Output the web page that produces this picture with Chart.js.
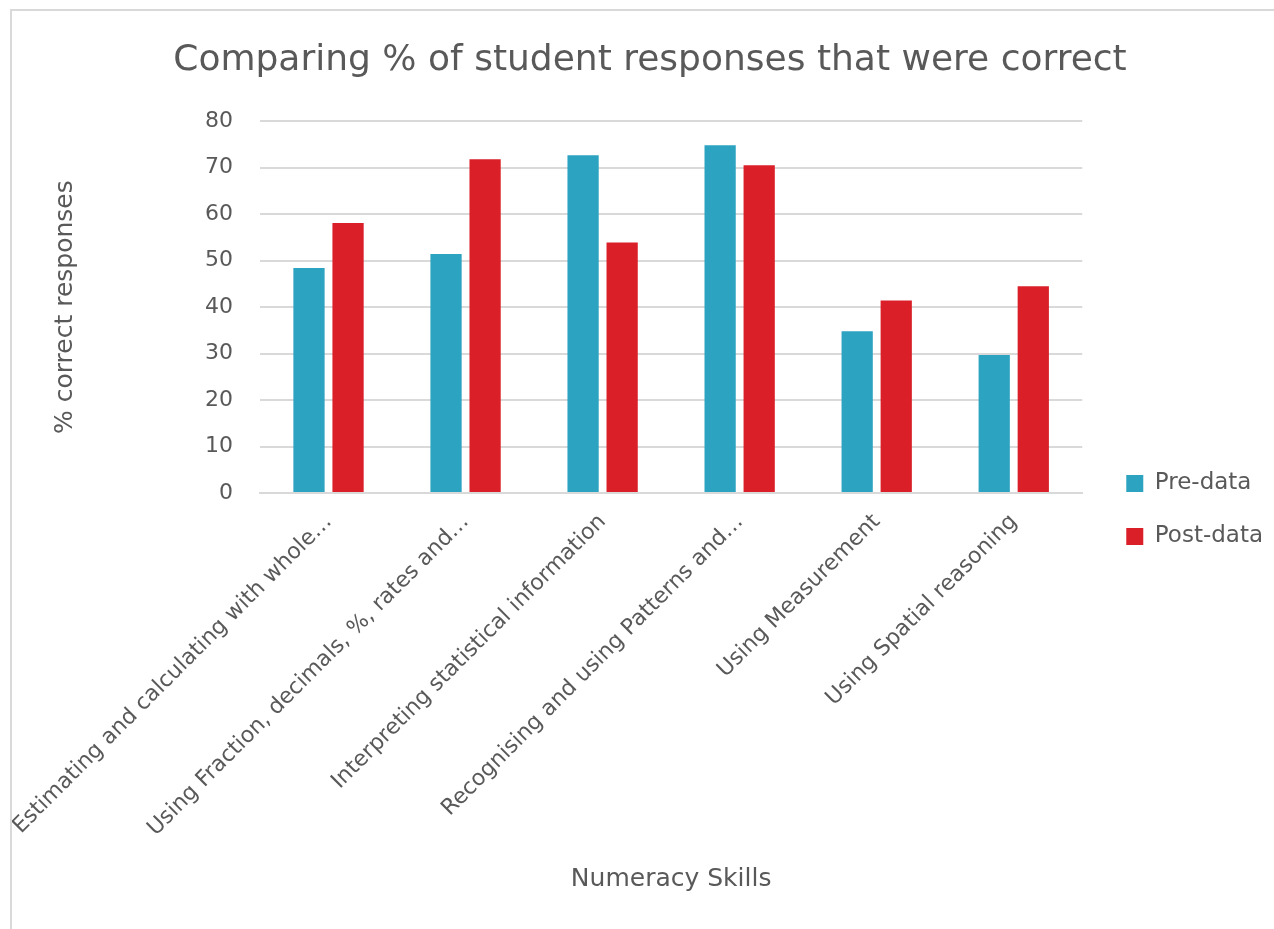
<!DOCTYPE html>
<html>
<head>
<meta charset="utf-8">
<script src="https://cdn.jsdelivr.net/npm/chart.js@4"></script>
<style>
    html, body { margin: 0; padding: 0; background: #fff; overflow: hidden; }
    #box {
        position: absolute; left: 10px; top: 9px;
        width: 1300px; height: 940px;
        border-left: 2px solid #d9d9d9; border-top: 2px solid #d9d9d9;
    }
    #wrap { position: absolute; left: 0; top: 0; width: 1266px; height: 918px; }
</style>
</head>
<body>
<div id="box"><div id="wrap"><canvas id="myChart"></canvas></div></div>
<script>
const labels = [
    'Estimating and calculating with whole…',
    'Using Fraction, decimals, %, rates and…',
    'Interpreting statistical information',
    'Recognising and using Patterns and…',
    'Using Measurement',
    'Using Spatial reasoning',
];
const preData = [48.4, 51.4, 72.7, 74.8, 34.8, 29.7];
const postData = [58.1, 71.8, 53.9, 70.5, 41.4, 44.5];
const yTicks = [0, 10, 20, 30, 40, 50, 60, 70, 80];

let textColor = '#595959'
let gridColor = '#d9d9d9'
let fontFamily = '"DejaVu Sans", Verdana, sans-serif'

const data = {
    labels: labels,
    datasets: [
        {
            label: 'Pre-data',
            data: preData,
            backgroundColor: '#2ca3c0',
            categoryPercentage: 0.57,
            barPercentage: 0.8,
        },
        {
            label: 'Post-data',
            data: postData,
            backgroundColor: '#da1f28',
            categoryPercentage: 0.57,
            barPercentage: 0.8,
        }
    ]
};

const config = {
    type: 'bar',
    data: data,
    options: {
        responsive: true,
        maintainAspectRatio: false,
        animation: false,
        layout: {
            padding: { left: 15, right: 5, top: 10, bottom: 28 }
        },
        plugins: {
            title: {
                display: true,
                text: 'Comparing % of student responses that were correct',
                color: textColor,
                font: { family: fontFamily, size: 36, weight: 'normal' },
                padding: { top: 18, bottom: 39 }
            },
            legend: {
                position: 'right',
                // empty title only pushes the items down to where they sit in the picture
                title: { display: true, text: '', font: { size: 10 }, padding: { top: 86, bottom: 0 } },
                labels: {
                    color: textColor,
                    font: { family: fontFamily, size: 23 },
                    boxWidth: 17,
                    boxHeight: 17,
                    padding: 30
                }
            },
            tooltip: { enabled: false }
        },
        scales: {
            x: {
                grid: { display: false },
                border: { color: gridColor, width: 2 },
                ticks: {
                    color: textColor,
                    font: { family: fontFamily, size: 22 },
                    minRotation: 45,
                    maxRotation: 45,
                    autoSkip: false,
                    padding: 8
                },
                title: {
                    display: true,
                    text: 'Numeracy Skills',
                    color: textColor,
                    font: { family: fontFamily, size: 25 },
                    padding: { top: 0, bottom: 7 }
                },
                afterFit: function (scale) {
                    scale.height = 408
                    // long rotated labels should not push the plot to the right
                    scale.paddingLeft = 0
                    scale.paddingRight = 0
                }
            },
            y: {
                min: 0,
                max: 80,
                afterBuildTicks: function (scale) {
                    scale.ticks = yTicks.map(v => ({ value: v }))
                },
                grid: { color: gridColor, lineWidth: 2, drawTicks: false },
                border: { display: false },
                ticks: {
                    color: textColor,
                    font: { family: fontFamily, size: 22 },
                    padding: 27
                },
                title: {
                    display: true,
                    text: '% correct responses',
                    color: textColor,
                    font: { family: fontFamily, size: 25 },
                    padding: { top: 23, bottom: 0 }
                },
                afterFit: function (scale) { scale.width = 233 }
            },
            // empty axis only to keep a gap between the plot and the legend
            gap: {
                type: 'linear',
                position: 'right',
                display: true,
                grid: { display: false },
                border: { display: false },
                ticks: { display: false },
                afterFit: function (scale) { scale.width = 14 }
            }
        }
    }
};

const myChart = new Chart(document.getElementById('myChart'), config);
</script>
</body>
</html>
